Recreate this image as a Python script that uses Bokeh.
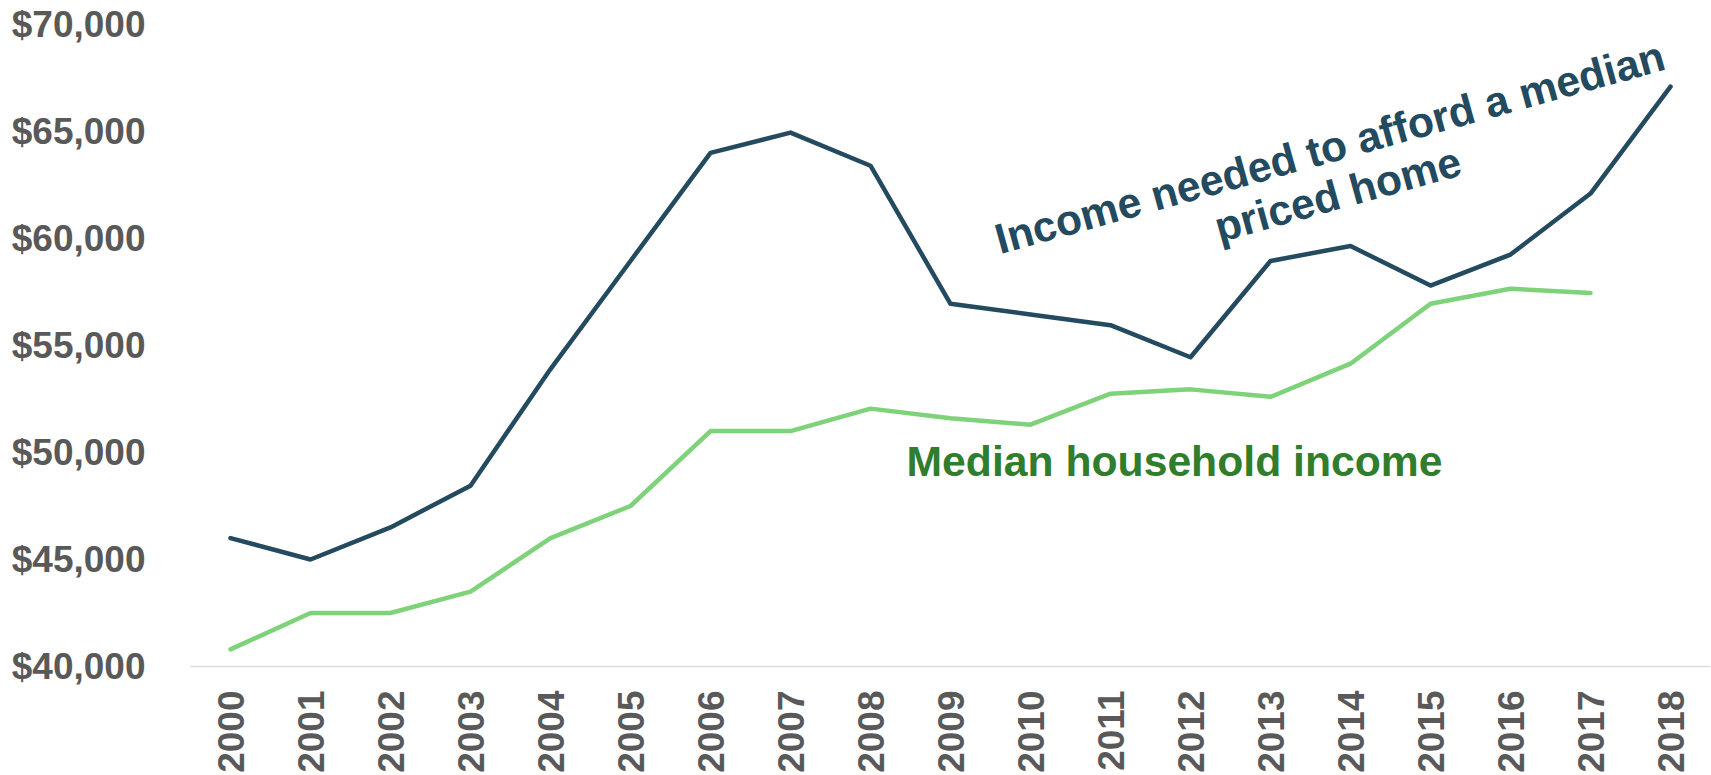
import math
from bokeh.plotting import figure
from bokeh.models import Range1d, FixedTicker, NumeralTickFormatter
from bokeh.core.properties import value
from bokeh.embed import file_html
from bokeh.resources import INLINE

# ---- data ----
years = list(range(2000, 2019))
income_needed = [46000, 45000, 46500, 48450, 53900, 58950, 64000, 64950, 63400,
                 56950, 56450, 55950, 54450, 58950, 59650, 57800, 59250, 62100, 67100]
median_years = list(range(2000, 2018))
median_income = [40800, 42500, 42500, 43500, 46000, 47500, 51000, 51000, 52050,
                 51600, 51300, 52750, 52950, 52600, 54150, 56950, 57650, 57450]
y_ticks = [40000, 45000, 50000, 55000, 60000, 65000, 70000]

label_needed_1 = "Income needed to afford a median"
label_needed_2 = "priced home"
label_median = "Median household income"

DARK = "#234a5e"
LIGHT_GREEN = "#7ed27a"
DARK_GREEN = "#2f7d2d"
GREY = "#595959"
FONT = "Liberation Sans"

p = figure(width=1711, height=775, output_backend="svg", toolbar_location=None,
           x_range=Range1d(1999.5, 2018.5), y_range=Range1d(40000, 70000),
           min_border_left=190, min_border_right=1, min_border_top=24,
           min_border_bottom=107)
p.outline_line_color = None
p.xgrid.visible = False
p.ygrid.visible = False
p.background_fill_color = "white"
p.border_fill_color = "white"

p.line(years, income_needed, line_color=DARK, line_width=4.5,
       line_cap="round", line_join="round")
p.line(median_years, median_income, line_color=LIGHT_GREEN, line_width=4.5,
       line_cap="round", line_join="round")

ang = 15.5 * math.pi / 180
p.text(x=[2013.74], y=[64268], text=[label_needed_1], angle=ang,
       text_font=value(FONT), text_font_style="bold", text_font_size="42.7px",
       text_color=DARK, text_align="center", text_baseline="alphabetic")
p.text(x=[2013.84], y=[62079], text=[label_needed_2], angle=ang,
       text_font=value(FONT), text_font_style="bold", text_font_size="42.7px",
       text_color=DARK, text_align="center", text_baseline="alphabetic")
p.text(x=[2008.45], y=[49611], text=[label_median],
       text_font=value(FONT), text_font_style="bold", text_font_size="42.7px",
       text_color=DARK_GREEN, text_align="left", text_baseline="alphabetic")

# axes
xa = p.xaxis[0]
xa.ticker = FixedTicker(ticks=years)
xa.major_label_orientation = math.pi / 2
xa.major_label_text_font = FONT
xa.major_label_text_font_style = "bold"
xa.major_label_text_font_size = "37px"
xa.major_label_text_color = GREY
xa.major_label_standoff = 24
xa.major_tick_line_color = None
xa.minor_tick_line_color = None
xa.major_tick_out = 0
xa.major_tick_in = 0
xa.axis_line_color = "#dcdcdc"
xa.axis_line_width = 1.5

ya = p.yaxis[0]
ya.ticker = FixedTicker(ticks=y_ticks)
ya.formatter = NumeralTickFormatter(format="$0,0")
ya.major_label_text_font = FONT
ya.major_label_text_font_style = "bold"
ya.major_label_text_font_size = "37px"
ya.major_label_text_color = GREY
ya.major_label_standoff = 45
ya.major_tick_line_color = None
ya.minor_tick_line_color = None
ya.major_tick_out = 0
ya.major_tick_in = 0
ya.axis_line_color = None

open("out.html", "w").write(file_html(p, INLINE))
